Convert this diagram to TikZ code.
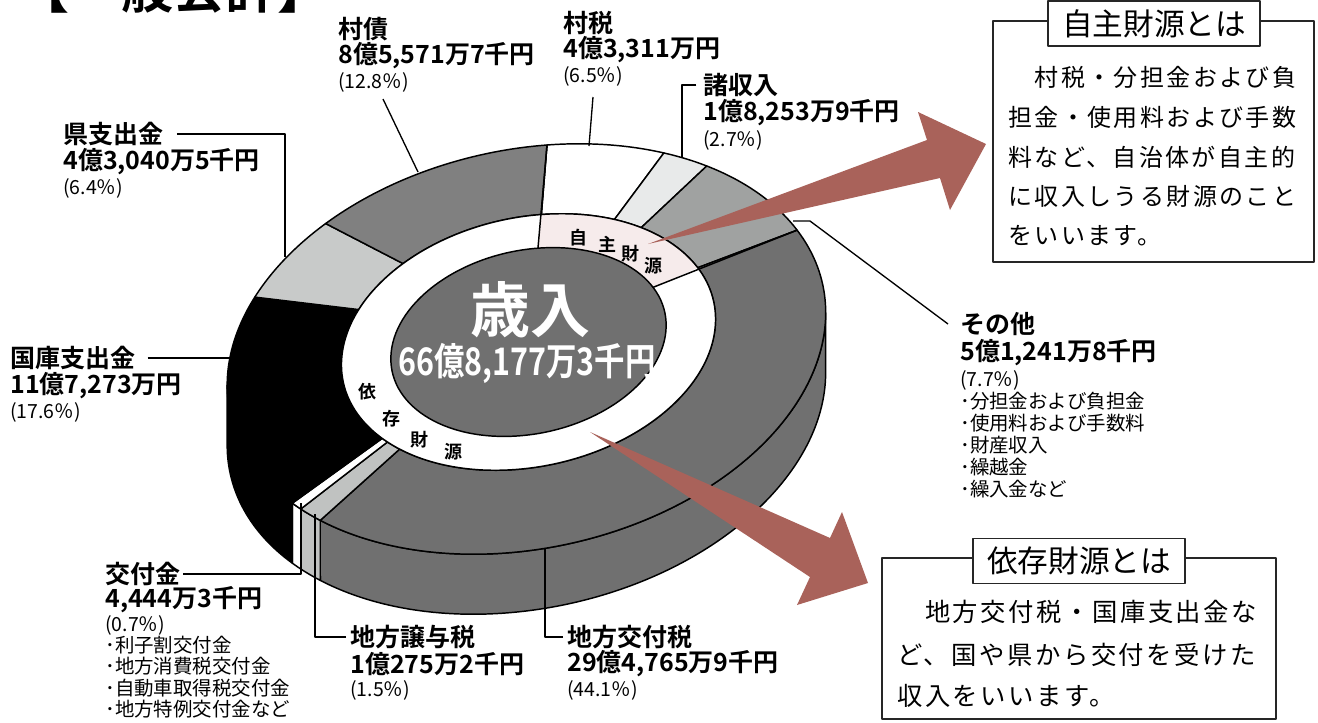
\documentclass[tikz,border=0pt]{standalone}
\usepackage{fontspec}
\setmainfont{Noto Sans CJK JP}[BoldFont={Noto Sans CJK JP Bold}]
\newfontfamily\bodyfontA{Noto Sans CJK JP}[LetterSpace=10]
\newfontfamily\bodyfontB{Noto Sans CJK JP}[LetterSpace=10]
\usetikzlibrary{calc}
\definecolor{arrowred}{RGB}{169,98,90}
\definecolor{csonsai}{RGB}{128,128,128}
\definecolor{ckofuzei}{RGB}{112,112,112}
\definecolor{csonota}{RGB}{160,162,161}
\definecolor{cshoshu}{RGB}{232,234,234}
\definecolor{cken}{RGB}{200,202,201}
\definecolor{cjoyo}{RGB}{192,194,193}
\definecolor{cpink}{RGB}{246,235,235}
\definecolor{ccenter}{RGB}{112,112,112}
\newcommand\fsTitle{\fontsize{39}{40}\selectfont\bfseries}
\newcommand\fsBold{\fontsize{18.75}{20}\selectfont\bfseries}
\newcommand\fsPct{\fontsize{14.6}{15}\selectfont}
\newcommand\fsBodyA{\bodyfontA\fontsize{18}{20}\selectfont}
\newcommand\fsBodyB{\bodyfontB\fontsize{19}{20}\selectfont}
\newcommand\fsBoxT{\fontsize{23}{24}\selectfont}
\newcommand\fsSai{\fontsize{45}{46}\selectfont\bfseries}
\newcommand\fsTot{\fontsize{28.5}{30}\selectfont\bfseries}
\newcommand\fsRing{\fontsize{13.5}{14}\selectfont\bfseries}
\def\rin{0.625}
\def\rcen{0.46}
\def\iox{0.0047}
\def\ioy{0.0338}
\def\sdx{0.0205}
\def\sdy{-0.2963}
\newcommand\sidewall[3]{\filldraw[ring,fill=#3] ({90-(#1)}:1) arc[start angle={90-(#1)},end angle={90-(#2)},radius=1] -- ({\sdx+cos(90-(#2))},{\sdy+sin(90-(#2))}) arc[start angle={90-(#2)},end angle={90-(#1)},radius=1] -- cycle;}
\newcommand\topslice[3]{\filldraw[ring,fill=#3] ({90-(#1)}:1) arc[start angle={90-(#1)},end angle={90-(#2)},radius=1] -- ({\iox+\rin*cos(90-(#2))},{\ioy+\rin*sin(90-(#2))}) arc[start angle={90-(#2)},end angle={90-(#1)},radius=\rin] -- cycle;}
\begin{document}
\begin{tikzpicture}[x=0.75pt,y=-0.75pt,line join=round,
  ring/.style={draw=black,line width=1.1pt},
  leader/.style={draw=black,line width=1pt},
  lb/.style={anchor=west,inner sep=0pt,font=\fsBold},
  lp/.style={anchor=west,inner sep=0pt,font=\fsPct},
  bodyA/.style={anchor=west,inner sep=0pt,font=\fsBodyA},
  bodyB/.style={anchor=west,inner sep=0pt,font=\fsBodyB},
  boxframe/.style={draw=black!85,line width=1pt},
  titlebox/.style={draw=black!85,line width=1.2pt,fill=white,inner sep=0pt,font=\fsBoxT,minimum width=159pt,minimum height=34pt},
  arrowshape/.style={fill=arrowred,draw=none},
  ringchar/.style={inner sep=0pt,font=\fsRing}]
\useasboundingbox (0,0) rectangle (1318,722);
\fill[white] (0,0) rectangle (1318,722);

% clipped title
\node[anchor=base west,inner sep=0pt,font=\fsTitle] (title) at (17,8) {【一般会計】};

% doughnut
\begin{scope}[shift={(526.4,349)},x={(223.9pt,16.7pt)},y={(15.45pt,153pt)}]
  \sidewall{86.05}{219.6}{ckofuzei}
  \sidewall{219.6}{225}{cjoyo}
  \sidewall{225}{227.52}{white}
  \sidewall{227.52}{266.05}{black}
  \topslice{0}{23.4}{white}
  \topslice{23.4}{33.12}{cshoshu}
  \topslice{33.12}{60.84}{csonota}
  \topslice{60.84}{219.6}{ckofuzei}
  \topslice{219.6}{225}{cjoyo}
  \topslice{225}{227.52}{white}
  \topslice{227.52}{290.88}{black}
  \topslice{290.88}{313.92}{cken}
  \topslice{313.92}{360}{csonsai}
  \fill[white] (\iox,\ioy) circle[radius=\rin];
  \fill[cpink] (\iox,\ioy) -- ({\iox+\rin*cos(90)},{\ioy+\rin*sin(90)}) arc[start angle=90,end angle={90-60.84},radius=\rin] -- cycle;
  \draw[ring] (90:1) -- ({\iox+\rcen*cos(90)},{\ioy+\rcen*sin(90)});
  \draw[ring] ({90-60.84}:1) -- ({\iox+\rcen*cos(90-60.84)},{\ioy+\rcen*sin(90-60.84)});
  \draw[ring] (\iox,\ioy) circle[radius=\rin];
  \filldraw[ring,fill=ccenter] (\iox,\ioy) circle[radius=\rcen];
\end{scope}

% centre texts
\node[inner sep=0pt,font=\fsSai,text=white] (sainyu) at (530,310) {歳入};
\node[inner sep=0pt,font=\fsTot,text=white] (total) at (527,363) {\scalebox{0.8}[1]{66億8,177万3千円}};
\node[ringchar] (j1) at (578,238) {自};
\node[ringchar] (j2) at (607,244) {主};
\node[ringchar] (j3) at (630,254) {財};
\node[ringchar] (j4) at (653,266) {源};
\node[ringchar] (i1) at (367,392) {依};
\node[ringchar] (i2) at (391,419) {存};
\node[ringchar] (i3) at (419,440) {財};
\node[ringchar] (i4) at (453,452) {源};

% arrows
\fill[arrowshape] (648,244) -- (927,140) -- (918,112) -- (986,144) -- (950,210) -- (940,178) -- cycle;
\fill[arrowshape] (590,432) -- (830,538) -- (842,512) -- (868,583) -- (797,605) -- (810,577) -- cycle;

% labels
\node[lb] (ken1) at (63,134) {県支出金};
\node[lb] (ken2) at (63,162) {4億3,040万5千円};
\node[lp] (ken3) at (63,188) {(6.4％)};
\node[lb] (sai1) at (338,29) {村債};
\node[lb] (sai2) at (338,56) {8億5,571万7千円};
\node[lp] (sai3) at (338,82) {(12.8％)};
\node[lb] (zei1) at (563,23) {村税};
\node[lb] (zei2) at (563,50) {4億3,311万円};
\node[lp] (zei3) at (563,76) {(6.5％)};
\node[lb] (sho1) at (703,85) {諸収入};
\node[lb] (sho2) at (703,113) {1億8,253万9千円};
\node[lp] (sho3) at (703,140) {(2.7％)};
\node[lb] (son1) at (960,324) {その他};
\node[lb] (son2) at (960,353) {5億1,241万8千円};
\node[lp] (son3) at (960,380) {(7.7％)};
\node[lp] (son4) at (960,401) {･分担金および負担金};
\node[lp] (son5) at (960,423) {･使用料および手数料};
\node[lp] (son6) at (960,445) {･財産収入};
\node[lp] (son7) at (960,467) {･繰越金};
\node[lp] (son8) at (960,489) {･繰入金など};
\node[lb] (kok1) at (10,358) {国庫支出金};
\node[lb] (kok2) at (10,386) {11億7,273万円};
\node[lp] (kok3) at (10,412) {(17.6％)};
\node[lb] (kof1) at (105,574) {交付金};
\node[lb] (kof2) at (105,600) {4,444万3千円};
\node[lp] (kof3) at (105,625) {(0.7％)};
\node[lp] (kof4) at (105,645) {･利子割交付金};
\node[lp] (kof5) at (105,666) {･地方消費税交付金};
\node[lp] (kof6) at (105,688) {･自動車取得税交付金};
\node[lp] (kof7) at (105,709) {･地方特例交付金など};
\node[lb] (joy1) at (350,637) {地方譲与税};
\node[lb] (joy2) at (350,664) {1億275万2千円};
\node[lp] (joy3) at (350,690) {(1.5％)};
\node[lb] (ktz1) at (567,637) {地方交付税};
\node[lb] (ktz2) at (567,664) {29億4,765万9千円};
\node[lp] (ktz3) at (567,690) {(44.1％)};

% leader coordinates on the ring
\coordinate (p-ken) at (285,257);
\coordinate (p-sai0) at (383,99);
\coordinate (p-sai) at (418,172);
\coordinate (p-zei0) at (593,97);
\coordinate (p-zei) at (589,146);
\coordinate (p-sho) at (682,157);
\coordinate (p-son0) at (810,221);
\coordinate (p-son) at (793,221);
\coordinate (p-kok) at (229,358);
\coordinate (p-kof) at (301,503);
\coordinate (p-joy) at (315,514);
\coordinate (p-ktz) at (545,548);

\draw[leader] ([xshift=10pt]ken1.east) -| (p-ken);
\draw[leader] (p-sai0) -- (p-sai);
\draw[leader] (p-zei0) -- (p-zei);
\draw[leader] ([xshift=-5pt]sho1.west) -| (p-sho);
\draw[leader] ([xshift=-9pt]son1.west) -- (p-son0) -- (p-son);
\draw[leader] ([xshift=9pt]kok1.east) -- (p-kok);
\draw[leader] ([xshift=2pt]kof1.east) -| (p-kof);
\draw[leader] ([xshift=-3pt]joy1.west) -| (p-joy);
\draw[leader] ([xshift=-3pt]ktz1.west) -| (p-ktz);

% box 1
\draw[boxframe] (993,21) rectangle (1314,262);
\node[titlebox] (t1) at (1154,23.5) {自主財源とは};
\node[bodyA] (a1) at (1008,77) {　村税・分担金および負};
\node[bodyA] (a2) at (1008,117) {担金・使用料および手数};
\node[bodyA] (a3) at (1008,157) {料など、自治体が自主的};
\node[bodyA] (a4) at (1008,196) {に収入しうる財源のこと};
\node[bodyA] (a5) at (1008,236) {をいいます。};

% box 2
\draw[boxframe] (882,558) rectangle (1276,719);
\node[titlebox] (t2) at (1079,561) {依存財源とは};
\node[bodyB] (b1) at (897,612) {　地方交付税・国庫支出金な};
\node[bodyB] (b2) at (897,655) {ど、国や県から交付を受けた};
\node[bodyB] (b3) at (897,696) {収入をいいます。};
\end{tikzpicture}
\end{document}
